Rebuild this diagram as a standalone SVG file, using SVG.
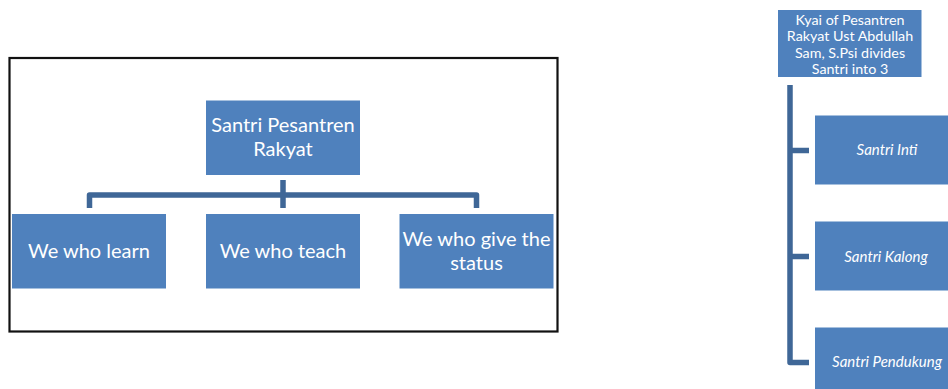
<svg xmlns="http://www.w3.org/2000/svg" width="948" height="389" viewBox="0 0 948 389">
<style>
.box{fill:#4F81BD}
.t{fill:#fff;font-family:Lato,"Liberation Sans",sans-serif;text-anchor:middle}
.big{font-size:20px}
.small{font-size:14.3px}
.it{font-style:italic;font-size:15px}
.con{fill:none;stroke:#3F6797;stroke-width:5.5;stroke-linejoin:round}
</style>
<rect x="0" y="0" width="948" height="389" fill="#fff"/>
<rect x="9.5" y="58" width="548" height="273.5" fill="none" stroke="#111" stroke-width="2.2"/>
<g id="connectors">
<path class="con" d="M283 180 V208 M89.5 208 V195 H476.5 V208"/>
<path class="con" d="M790 85 V362.5 H809 M790 150.5 H809 M790 256.5 H809"/>
</g>
<g id="n-root">
<rect class="box" x="206" y="100.5" width="154" height="74.5"/>
<text class="t big" x="283" y="132">Santri Pesantren</text>
<text class="t big" x="283" y="156">Rakyat</text>
</g>
<g id="n-learn">
<rect class="box" x="12" y="214" width="154" height="74.5"/>
<text class="t big" x="89" y="258">We who learn</text>
</g>
<g id="n-teach">
<rect class="box" x="206" y="214" width="154" height="74.5"/>
<text class="t big" x="283" y="258">We who teach</text>
</g>
<g id="n-status">
<rect class="box" x="399.5" y="214" width="154" height="74.5"/>
<text class="t big" x="476.5" y="246">We who give the</text>
<text class="t big" x="476.5" y="270">status</text>
</g>
<g id="n-kyai">
<rect class="box" x="778" y="10" width="143.5" height="67"/>
<text class="t small" x="850" y="24.5">Kyai of Pesantren</text>
<text class="t small" x="850" y="41">Rakyat Ust Abdullah</text>
<text class="t small" x="850" y="57.5">Sam, S.Psi divides</text>
<text class="t small" x="850" y="74">Santri into 3</text>
</g>
<g id="n-inti">
<rect class="box" x="815" y="115.5" width="145" height="69"/>
<text class="t small it" x="887" y="155">Santri Inti</text>
</g>
<g id="n-kalong">
<rect class="box" x="815" y="221.5" width="145" height="69"/>
<text class="t small it" x="886" y="261.5">Santri Kalong</text>
</g>
<g id="n-pendukung">
<rect class="box" x="815" y="327.5" width="145" height="69"/>
<text class="t small it" x="887" y="366.5">Santri Pendukung</text>
</g>
</svg>
